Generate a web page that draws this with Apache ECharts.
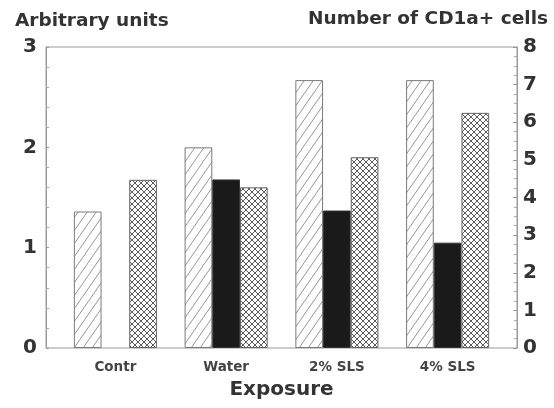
<!DOCTYPE html>
<html>
<head>
<meta charset="utf-8">
<script src="https://cdn.jsdelivr.net/npm/echarts@6/dist/echarts.min.js"></script>
<style>html,body{margin:0;padding:0;background:#fff;}#c{width:554px;height:408px;}</style>
</head>
<body>
<div id="c"></div>
<script>
var categories = ['Contr', 'Water', '2% SLS', '4% SLS'];
var hatchedValues = [1.36, 2.0, 2.67, 2.67];        // left axis, arbitrary units
var blackValues = [null, 1.68, 1.37, 1.05];         // left axis, arbitrary units
var crossValues = [4.47, 4.27, 5.07, 6.25];         // right axis, number of CD1a+ cells
var leftTicks = [0, 1, 2, 3];
var rightTicks = [0, 1, 2, 3, 4, 5, 6, 7, 8];

function makeHatch() {
  var w = 9, h = 13, c = document.createElement('canvas');
  c.width = w; c.height = h;
  var g = c.getContext('2d');
  g.fillStyle = '#fff'; g.fillRect(0, 0, w, h);
  g.strokeStyle = '#8a8a8a'; g.lineWidth = 0.9;
  g.beginPath();
  g.moveTo(-w, 2 * h); g.lineTo(2 * w, -h);
  g.moveTo(-2 * w, 2 * h); g.lineTo(w, -h);
  g.moveTo(0, 2 * h); g.lineTo(3 * w, -h);
  g.stroke();
  return c;
}
function makeCross() {
  var s = 6, c = document.createElement('canvas');
  c.width = s; c.height = s;
  var g = c.getContext('2d');
  g.fillStyle = '#fff'; g.fillRect(0, 0, s, s);
  g.strokeStyle = '#4a4a4a'; g.lineWidth = 0.9;
  g.beginPath();
  g.moveTo(0, 0); g.lineTo(s, s);
  g.moveTo(0, s); g.lineTo(s, 0);
  g.stroke();
  return c;
}

var chart = echarts.init(document.getElementById('c'), null, {renderer: 'canvas'});
var font = 'DejaVu Sans, sans-serif';
chart.setOption({
  animation: false,
  backgroundColor: '#fff',
  title: [
    {text: 'Arbitrary units', left: 10, top: 7, textStyle: {fontFamily: font, fontSize: 18.5, fontWeight: 'bold', color: '#333'}},
    {text: 'Number of CD1a+ cells', right: 1, top: 5, textStyle: {fontFamily: font, fontSize: 18.5, fontWeight: 'bold', color: '#333'}}
  ],
  grid: [
    {left: 60, right: 51, top: 47, bottom: 60, containLabel: false},
    {left: 46, right: 37, top: 47, bottom: 60, show: true, borderColor: '#9a9a9a', borderWidth: 1, backgroundColor: 'transparent', z: 0}
  ],
  xAxis: [
    {
      type: 'category', gridIndex: 0, data: categories, boundaryGap: true,
      axisLine: {show: false}, axisTick: {show: false},
      axisLabel: {margin: 12, fontFamily: font, fontSize: 13.5, fontWeight: 'bold', color: '#444'},
      name: 'Exposure', nameLocation: 'middle', nameGap: 32,
      nameTextStyle: {fontFamily: font, fontSize: 20, fontWeight: 'bold', color: '#333'}
    },
    {type: 'value', gridIndex: 1, show: false, min: 0, max: 1}
  ],
  yAxis: [
    {
      type: 'value', gridIndex: 0, position: 'left', offset: 14, min: leftTicks[0], max: leftTicks[leftTicks.length - 1], interval: 1,
      axisLine: {show: true, lineStyle: {color: '#9a9a9a', width: 1}},
      axisTick: {show: true, inside: true, length: 3, lineStyle: {color: '#999'}},
      minorTick: {show: true, splitNumber: 5, length: 3, lineStyle: {color: '#aaa'}},
      splitLine: {show: false},
      axisLabel: {margin: 9, fontFamily: font, fontSize: 20, fontWeight: 'bold', color: '#333'}
    },
    {
      type: 'value', gridIndex: 0, position: 'right', offset: 14, min: rightTicks[0], max: rightTicks[rightTicks.length - 1], interval: 1,
      axisLine: {show: true, lineStyle: {color: '#9a9a9a', width: 1}},
      axisTick: {show: true, inside: true, length: 4, lineStyle: {color: '#999'}},
      minorTick: {show: true, splitNumber: 4, length: 3, lineStyle: {color: '#aaa'}},
      splitLine: {show: false},
      axisLabel: {margin: 6, fontFamily: font, fontSize: 20, fontWeight: 'bold', color: '#333'}
    },
    {type: 'value', gridIndex: 1, show: false, min: 0, max: 1}
  ],
  series: [
    {
      type: 'bar', xAxisIndex: 0, yAxisIndex: 0, data: hatchedValues,
      barGap: '0%', barCategoryGap: '25%',
      itemStyle: {color: {image: makeHatch(), repeat: 'repeat'}, borderColor: '#7a7a7a', borderWidth: 1}
    },
    {
      type: 'bar', xAxisIndex: 0, yAxisIndex: 0, data: blackValues,
      barGap: '0%', barCategoryGap: '25%',
      itemStyle: {color: '#1a1a1a', borderColor: '#333', borderWidth: 1}
    },
    {
      type: 'bar', xAxisIndex: 0, yAxisIndex: 1, data: crossValues,
      barGap: '0%', barCategoryGap: '25%',
      itemStyle: {color: {image: makeCross(), repeat: 'repeat'}, borderColor: '#666', borderWidth: 1}
    }
  ]
});
</script>
</body>
</html>
